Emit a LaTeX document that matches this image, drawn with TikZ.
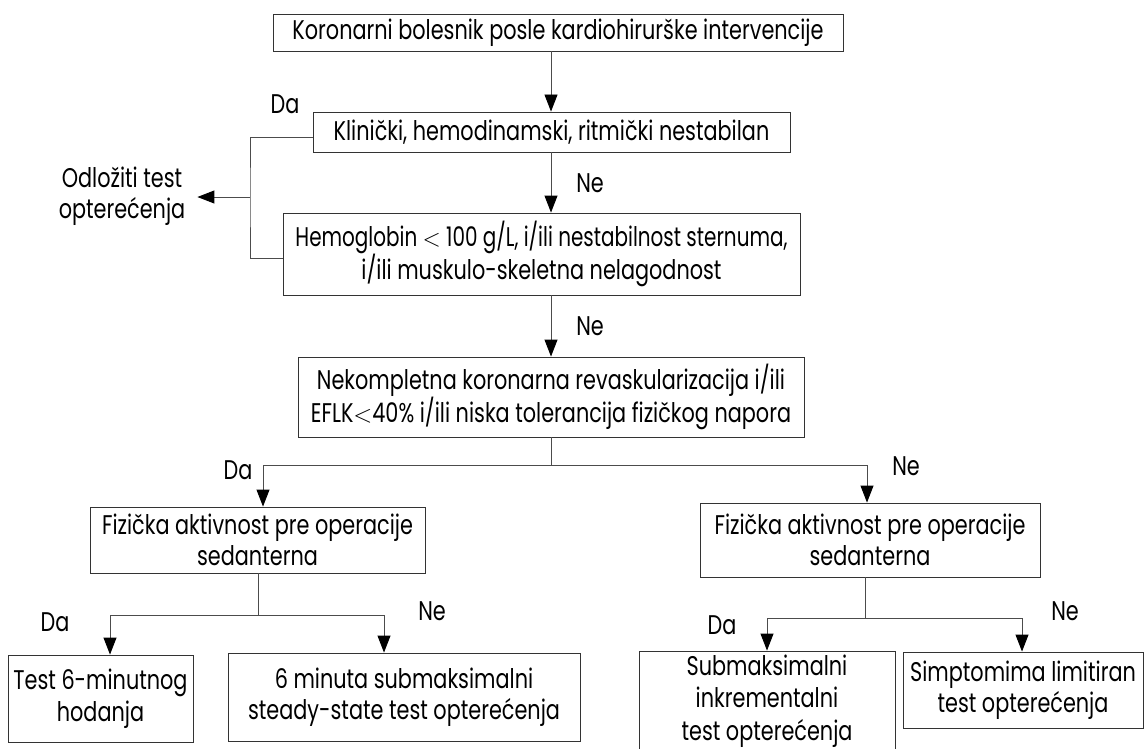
\documentclass[tikz,border=0pt]{standalone}
\usepackage{fontspec}
\setmainfont[FakeStretch=0.77]{Poppins}
\usetikzlibrary{arrows.meta}
\begin{document}
\begin{tikzpicture}[x=1pt,y=-1pt,
  every node/.style={font=\fontsize{27}{31.5}\selectfont},
  box/.style={draw=black!80, line width=0.9pt, align=center, inner sep=0pt},
  lbl/.style={inner sep=0pt},
  ln/.style={draw=black!70, line width=0.9pt},
  arr/.style={ln, -{Triangle[length=17pt,width=13pt,color=black]}}]
\useasboundingbox (0,0) rectangle (1148,749);
\clip (0,0) rectangle (1148,749);
% boxes
\node[box, minimum width=570, minimum height=37] (top) at (558,32.5) {Koronarni bolesnik posle kardiohirurške intervencije};
\node[box, minimum width=477, minimum height=40] (b2) at (551.5,132) {Klinički, hemodinamski, ritmički nestabilan};
\node[box, minimum width=517, minimum height=82] (b3) at (541.5,254) {\scalebox{0.96}[1]{Hemoglobin ${<}$ 100 g/L, i/ili nestabilnost sternuma,}\\ i/ili muskulo-skeletna nelagodnost};
\node[box, minimum width=506, minimum height=80] (b4) at (551,397) {Nekompletna koronarna revaskularizacija i/ili\\ EFLK${<}$40\% i/ili niska tolerancija fizičkog napora};
\node[box, minimum width=335, minimum height=66] (b5) at (257.5,540) {Fizička aktivnost pre operacije\\ sedanterna};
\node[box, minimum width=340, minimum height=74] (b6) at (870,540) {Fizička aktivnost pre operacije\\ sedanterna};
\node[box, minimum width=185, minimum height=87] (b7) at (100.5,698.5) {Test 6-minutnog\\ hodanja};
\node[box, minimum width=352, minimum height=88] (b8) at (404,697) {6 minuta submaksimalni\\ steady-state test opterećenja};
\node[box, minimum width=256, minimum height=112] (b9) at (767,707) {};
\node[align=center, inner sep=0pt, font=\fontsize{27}{32.5}\selectfont] (b9t) at (767,701) {Submaksimalni\\ inkrementalni\\ test opterećenja};
\node[box, minimum width=240, minimum height=76] (b10) at (1023,690) {Simptomima limitiran\\ test opterećenja};
\node[align=center, inner sep=0pt] (odl) at (122,196) {Odložiti test\\ opterećenja};
% coordinates
\coordinate (brk) at (250,197);
\coordinate (s1) at (551,465);
\coordinate (s2) at (258,615);
\coordinate (s3) at (865,618);
% connectors
\draw[arr] (top.south -| b4.north) -- (b2.north -| b4.north);
\draw[arr] (b2.south -| b4.north) -- (b3.north -| b4.north);
\draw[arr] (b3.south -| b4.north) -- (b4.north);
\draw[ln] ([yshift=-5pt]b2.west) -| (brk) |- ([yshift=-4pt]b3.west);
\draw[arr] (brk) -- ([xshift=12pt]odl.east |- brk);
\draw[ln] (b4.south) -- (s1);
\draw[arr] (s1) -| ([xshift=5.5pt]b5.north);
\draw[arr] (s1) -| ([xshift=-3pt]b6.north);
\draw[ln] (b5.south -| s2) -- (s2);
\draw[arr] (s2) -| ([xshift=9.5pt]b7.north);
\draw[arr] (s2) -| ([xshift=-20pt]b8.north);
\draw[ln] (b6.south -| s3) -- (s3);
\draw[arr] (s3) -| (b9.north);
\draw[arr] (s3) -| ([xshift=-1pt]b10.north);
% labels
\node[lbl] (l1) at (285,104) {Da};
\node[lbl] (l2) at (590,183) {Ne};
\node[lbl] (l3) at (590,326) {Ne};
\node[lbl] (l4) at (238,470) {Da};
\node[lbl] (l5) at (906,466) {Ne};
\node[lbl] (l6) at (55,622) {Da};
\node[lbl] (l7) at (432,611) {Ne};
\node[lbl] (l8) at (722,625) {Da};
\node[lbl] (l9) at (1065,611) {Ne};
\end{tikzpicture}
\end{document}
